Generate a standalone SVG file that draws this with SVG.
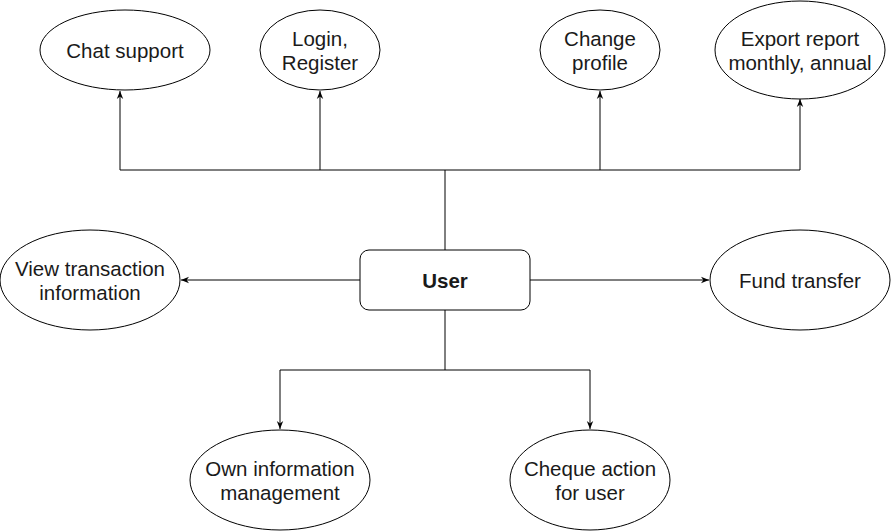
<svg xmlns="http://www.w3.org/2000/svg" width="891" height="532" viewBox="0 0 891 532">
<style>
.n{fill:#fff;stroke:#000;stroke-width:1}
.t{font-family:"Liberation Sans",Arial,sans-serif;font-size:20.5px;fill:#1a1a1a;text-anchor:middle}
.c{fill:none;stroke:#000;stroke-width:1}
</style>
<defs>
<marker id="a" viewBox="0 0 10 10" refX="10" refY="5" markerWidth="8" markerHeight="8" orient="auto" markerUnits="userSpaceOnUse">
<path d="M0,1 L10,5 L0,9 L3,5 Z" fill="#000"/>
</marker>
</defs>
<rect width="891" height="532" fill="#fff"/>
<g id="connectors">
<path class="c" d="M445,250 V170"/>
<path class="c" d="M120,170 H800"/>
<path class="c" d="M120,170 V91" marker-end="url(#a)"/>
<path class="c" d="M320,170 V91" marker-end="url(#a)"/>
<path class="c" d="M600,170 V91" marker-end="url(#a)"/>
<path class="c" d="M800,170 V99" marker-end="url(#a)"/>
<path class="c" d="M360,280 H181" marker-end="url(#a)"/>
<path class="c" d="M530,280 H709" marker-end="url(#a)"/>
<path class="c" d="M445,310 V370"/>
<path class="c" d="M280,370 H590"/>
<path class="c" d="M280,370 V429" marker-end="url(#a)"/>
<path class="c" d="M590,370 V429" marker-end="url(#a)"/>
</g>
<g id="chat"><ellipse class="n" cx="125" cy="50" rx="85" ry="40"/><text class="t" x="125" y="58">Chat support</text></g>
<g id="login"><ellipse class="n" cx="320" cy="50" rx="60" ry="40"/><text class="t" x="320" y="46">Login,</text><text class="t" x="320" y="70">Register</text></g>
<g id="profile"><ellipse class="n" cx="600" cy="50" rx="60" ry="40"/><text class="t" x="600" y="46">Change</text><text class="t" x="600" y="70">profile</text></g>
<g id="export"><ellipse class="n" cx="800" cy="50" rx="85" ry="49"/><text class="t" x="800" y="46">Export report</text><text class="t" x="800" y="70">monthly, annual</text></g>
<g id="user"><rect class="n" x="360" y="250" width="170" height="60" rx="9"/><text class="t" x="445" y="288" font-weight="bold" fill="#000">User</text></g>
<g id="view"><ellipse class="n" cx="90" cy="280" rx="90" ry="50"/><text class="t" x="90" y="276">View transaction</text><text class="t" x="90" y="300">information</text></g>
<g id="fund"><ellipse class="n" cx="800" cy="280" rx="90" ry="50"/><text class="t" x="800" y="288">Fund transfer</text></g>
<g id="own"><ellipse class="n" cx="280" cy="480" rx="90" ry="50"/><text class="t" x="280" y="476">Own information</text><text class="t" x="280" y="500">management</text></g>
<g id="cheque"><ellipse class="n" cx="590" cy="480" rx="80" ry="50"/><text class="t" x="590" y="476">Cheque action</text><text class="t" x="590" y="500">for user</text></g>
</svg>
